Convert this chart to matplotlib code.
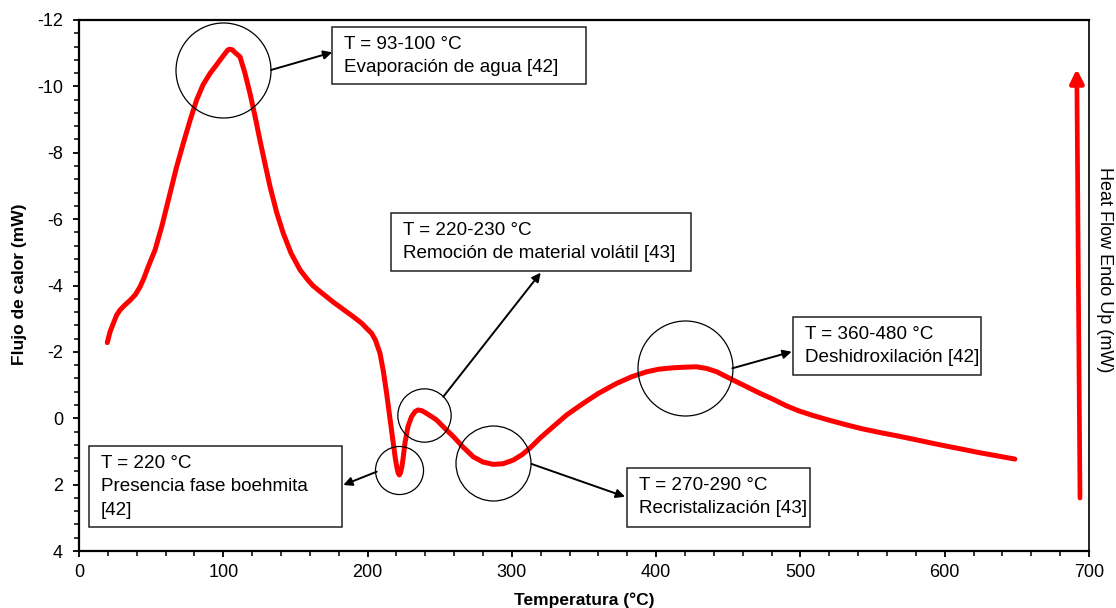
import matplotlib
matplotlib.use("Agg")
import matplotlib.pyplot as plt
from matplotlib.patches import Rectangle
from matplotlib.ticker import MultipleLocator

plt.rcParams['font.family'] = ['Liberation Sans', 'DejaVu Sans']
plt.rcParams['axes.unicode_minus'] = False

# ---- data ----
temperature = [19.6, 21.5, 23.8, 26.0, 28.4, 31.5, 35.3, 39.0, 42.3, 45.0, 48.0, 52.7,
               57.5, 63.1, 67.5, 72.3, 77.0, 81.5, 86.0, 90.8, 94.5, 97.7, 101.2, 103.2,
               104.6, 106.3, 108.1, 110.0, 111.6, 115.0, 118.5, 122.0, 125.4, 129.0,
               132.4, 137.0, 141.6, 147.0, 153.2, 158.0, 162.0, 167.0, 171.6, 176.2,
               180.0, 185.0, 190.1, 196.0, 200.0, 202.8, 205.5, 208.6, 211.0, 213.2,
               215.5, 217.8, 219.2, 220.2, 221.2, 222.0, 222.8, 223.8, 224.8, 225.9,
               228.0, 230.5, 232.9, 235.0, 237.4, 240.0, 244.0, 247.8, 253.0, 259.4,
               266.0, 273.2, 280.0, 287.1, 294.0, 301.0, 307.0, 312.5, 320.0, 328.7,
               338.0, 349.5, 360.0, 372.6, 383.0, 393.4, 402.0, 411.9, 420.0, 428.1,
               435.0, 442.0, 452.0, 462.7, 472.0, 481.2, 490.0, 499.0, 508.9, 520.0,
               532.0, 543.0, 555.1, 567.0, 578.2, 590.0, 601.3, 613.0, 624.4, 636.0,
               648.6]
heat_flow = [-2.28, -2.60, -2.86, -3.10, -3.26, -3.40, -3.55, -3.72, -3.96, -4.22, -4.57, -5.07,
             -5.80, -6.78, -7.55, -8.29, -8.98, -9.59, -10.05, -10.39, -10.60, -10.79, -10.99, -11.10,
             -11.12, -11.10, -11.02, -10.95, -10.89, -10.40, -9.79, -9.10, -8.38, -7.65,
             -6.98, -6.20, -5.57, -4.97, -4.47, -4.20, -4.00, -3.82, -3.66, -3.50,
             -3.38, -3.22, -3.06, -2.86, -2.68, -2.56, -2.35, -1.96, -1.40, -0.75,
             0.00, 0.75, 1.20, 1.46, 1.65, 1.71, 1.65, 1.46, 1.15, 0.75,
             0.25, -0.05, -0.20, -0.25, -0.23, -0.17, -0.06, 0.05, 0.28, 0.55,
             0.86, 1.16, 1.32, 1.39, 1.37, 1.26, 1.10, 0.90, 0.58, 0.25,
             -0.10, -0.45, -0.75, -1.05, -1.25, -1.40, -1.48, -1.52, -1.54, -1.55,
             -1.50, -1.40, -1.18, -0.95, -0.75, -0.57, -0.38, -0.22, -0.08, 0.06,
             0.20, 0.32, 0.43, 0.53, 0.63, 0.74, 0.84, 0.94, 1.04, 1.13,
             1.23]

x_ticks = [0, 100, 200, 300, 400, 500, 600, 700]
y_ticks = [-12, -10, -8, -6, -4, -2, 0, 2, 4]

# annotated events: circle centre (T, value), circle diameter (pt)
event_T = [100, 222, 239, 287, 420]
event_val = [-10.49, 1.56, -0.10, 1.36, -1.51]
event_diam = [68.4, 34.6, 38.4, 54.0, 68.4]

box_texts = [
    ["T = 93-100 °C", "Evaporación de agua [42]"],
    ["T = 220-230 °C", "Remoción de material volátil [43]"],
    ["T = 360-480 °C", "Deshidroxilación [42]"],
    ["T = 270-290 °C", "Recristalización [43]"],
    ["T = 220 °C", "Presencia fase boehmita", "[42]"],
]

# ---- figure ----
W, H = 1116, 608
fig = plt.figure(figsize=(W / 100, H / 100), dpi=100)
L, R, T, B = 79, 1089, 20, 551
ax = fig.add_axes([L / W, 1 - B / H, (R - L) / W, (B - T) / H])
ax.set_xlim(0, 700)
ax.set_ylim(4, -12)

ppx = (R - L) / 700.0   # px per degree
ppy = (B - T) / 16.0    # px per mW

def px(xp, yp):
    return (xp - L) / ppx, -12 + (yp - T) / ppy

ax.plot(temperature, heat_flow, color='#FF0000', lw=3.6,
        solid_joinstyle='round', solid_capstyle='round', zorder=3)

# circles
for t, v, d in zip(event_T, event_val, event_diam):
    ax.plot([t], [v], marker='o', ms=d, mfc='none', mec='black', mew=0.9,
            linestyle='none', zorder=4)

# boxes (pixel rectangles: left, top, right, bottom)
box_px = [(332, 27, 586, 84), (391, 213, 691, 271), (793, 317, 981, 375),
          (627, 468, 810, 527), (89, 446, 342, 527)]
for (l, t, r, b), lines in zip(box_px, box_texts):
    x0, y0 = px(l, t)
    x1, y1 = px(r, b)
    ax.add_patch(Rectangle((x0, y0), x1 - x0, y1 - y0, fill=True, facecolor='white',
                           edgecolor='#222222', lw=1.1, zorder=5))
    for i, line in enumerate(lines):
        tx, ty = px(l + 12, t + 17.5 + 23.4 * i)
        ax.text(tx, ty, line, fontsize=13.6, ha='left', va='center', zorder=6)

# arrows (pixel start -> end)
arrows_px = [((271, 70), (332.3, 52.3)),
             ((443.3, 396.7), (540.7, 272.7)),
             ((732.3, 368.3), (791.7, 351.7)),
             ((531.7, 464), (625, 496.7)),
             ((376.7, 471.7), (343.3, 485))]
for s, e in arrows_px:
    ax.annotate('', xy=px(*e), xytext=px(*s),
                arrowprops=dict(arrowstyle='-|>', color='black', lw=1.4,
                                mutation_scale=13, shrinkA=0, shrinkB=0), zorder=6)

# red "endo up" arrow
ax.annotate('', xy=px(1076.8, 69), xytext=px(1080, 498),
            arrowprops=dict(arrowstyle='-|>', color='#FF0000', lw=3.4,
                            mutation_scale=20, shrinkA=0, shrinkB=0), zorder=6)

# axes styling
ax.set_xticks(x_ticks)
ax.set_yticks(y_ticks)
ax.set_yticklabels([str(v) for v in y_ticks])
ax.xaxis.set_minor_locator(MultipleLocator(20))
ax.yaxis.set_minor_locator(MultipleLocator(0.4))
ax.tick_params(axis='both', which='major', direction='out', length=4, width=1.3,
               labelsize=13, color='black')
ax.tick_params(axis='both', which='minor', direction='out', length=3.5, width=1.1)
ax.tick_params(axis='x', pad=5.5)
ax.tick_params(axis='y', pad=7.5)
ax.tick_params(top=False, right=False, which='both')
for side in ['left', 'bottom', 'top']:
    ax.spines[side].set_linewidth(1.6)
ax.spines['right'].set_linewidth(1.2)

ax.set_xlabel('Temperatura (°C)', fontsize=12.5, fontweight='bold')
ax.set_ylabel('Flujo de calor (mW)', fontsize=12.5, fontweight='bold')
ax.xaxis.label.set_va('center')
ax.yaxis.label.set_va('center')
ax.xaxis.set_label_coords(0.5, (B - 600) / (B - T))
ax.yaxis.set_label_coords((20 - L) / (R - L), (B - 284) / (B - T))

ax.text((1104 - L) / (R - L), (B - 270) / (B - T), 'Heat Flow Endo Up (mW)',
        transform=ax.transAxes, rotation=-90, ha='center', va='center', fontsize=13)

fig.savefig('out.png', dpi=100)
